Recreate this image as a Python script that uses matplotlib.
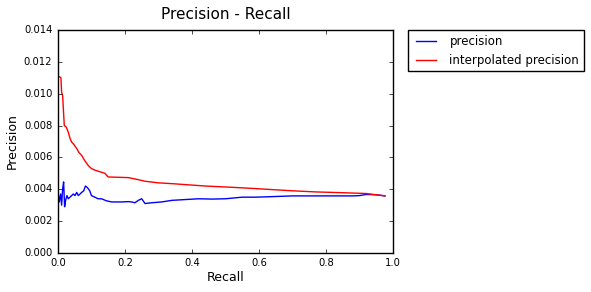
import matplotlib
matplotlib.use("Agg")
import matplotlib.pyplot as plt

plt.style.use("classic")

# precision curve
recall_p = [0.0, 0.004, 0.008, 0.011, 0.014, 0.017, 0.02, 0.023, 0.027, 0.031, 0.036,
            0.041, 0.046, 0.051, 0.056, 0.061, 0.066, 0.071, 0.077, 0.082, 0.088,
            0.095, 0.1, 0.11, 0.12, 0.13, 0.145, 0.16, 0.19, 0.21, 0.22,
            0.23, 0.24, 0.25, 0.26, 0.28, 0.31, 0.34, 0.38, 0.42, 0.46, 0.5,
            0.55, 0.59, 0.62, 0.66, 0.7, 0.74, 0.78, 0.82, 0.86, 0.88, 0.9,
            0.92, 0.95, 0.976]
precision = [0.0039, 0.0032, 0.0037, 0.0030, 0.0040, 0.00446, 0.0029, 0.0033, 0.0036, 0.0034, 0.0035,
             0.0036, 0.0037, 0.0036, 0.0038, 0.0036, 0.0037, 0.0038, 0.0039, 0.0042, 0.0041,
             0.0039, 0.0036, 0.0035, 0.0034, 0.0034, 0.00327, 0.0032, 0.0032, 0.00322, 0.0032,
             0.00315, 0.0033, 0.0034, 0.0031, 0.00315, 0.0032, 0.0033, 0.00335, 0.0034, 0.00338, 0.0034,
             0.0035, 0.0035, 0.00352, 0.00355, 0.00358, 0.00358, 0.00358, 0.00358, 0.00358, 0.00358, 0.0036,
             0.00367, 0.00365, 0.00358]

# interpolated precision curve
recall_i = [0.0, 0.0005, 0.002, 0.009, 0.011, 0.014, 0.019, 0.025, 0.031, 0.036,
            0.041, 0.048, 0.056, 0.063, 0.071, 0.08, 0.09, 0.1, 0.11, 0.125,
            0.14, 0.15, 0.21, 0.24, 0.26, 0.3, 0.34, 0.44, 0.52, 0.59,
            0.62, 0.7, 0.77, 0.85, 0.92, 0.976]
interp_precision = [0.0124, 0.0111, 0.0111, 0.0110, 0.0101, 0.0099, 0.0080, 0.0079, 0.00758, 0.0072,
                    0.00696, 0.0068, 0.00656, 0.0063, 0.00612, 0.0058, 0.0055, 0.0053, 0.0052, 0.0051,
                    0.0050, 0.00477, 0.00473, 0.0046, 0.0045, 0.0044, 0.00435, 0.0042, 0.00412, 0.00404,
                    0.0040, 0.0039, 0.00383, 0.00378, 0.00373, 0.00358]

fig = plt.figure(figsize=(5.91, 2.92), dpi=100)
ax = fig.add_axes([0.098, 0.134, 0.567, 0.763])

ax.plot(recall_p, precision, "b", label="precision")
ax.plot(recall_i, interp_precision, "r", label="interpolated precision")

ax.set_xlim(0, 1)
ax.set_ylim(0, 0.014)
ax.set_xticks([0.0, 0.2, 0.4, 0.6, 0.8, 1.0])
ax.set_yticks([0.0, 0.002, 0.004, 0.006, 0.008, 0.010, 0.012, 0.014])
ax.set_yticklabels(["0.000", "0.002", "0.004", "0.006", "0.008", "0.010", "0.012", "0.014"])
ax.tick_params(labelsize=7.2, length=3)

ax.set_xlabel("Recall", fontsize=9, labelpad=2)
ax.set_ylabel("Precision", fontsize=9, labelpad=4)
ax.set_title("Precision - Recall", fontsize=11, y=1.02)

ax.legend(bbox_to_anchor=(1.045, 1.0), loc=2, borderaxespad=0.0, fontsize=8.5,
          borderpad=0.4, handlelength=2.3)

fig.savefig("out.png", dpi=100)
